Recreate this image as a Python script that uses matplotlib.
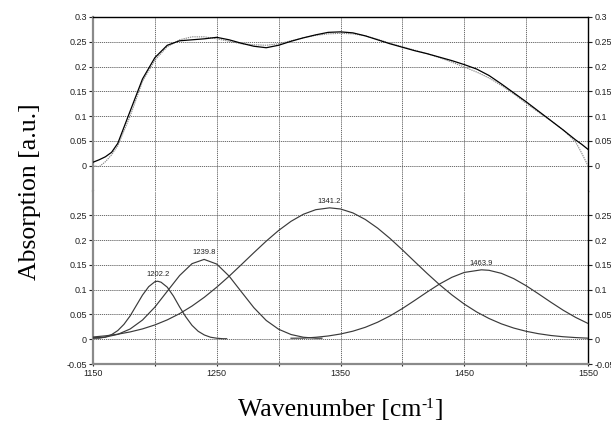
import matplotlib
matplotlib.use("Agg")
import matplotlib.pyplot as plt
from matplotlib.ticker import MultipleLocator, FixedLocator, NullFormatter

# ---------------- data ----------------
wn_top = [1150, 1155, 1160, 1165, 1170, 1180, 1190, 1200, 1210, 1220, 1230, 1240, 1250,
          1260, 1270, 1280, 1290, 1300, 1310, 1320, 1330, 1340, 1350, 1360, 1370,
          1380, 1390, 1400, 1410, 1420, 1430, 1440, 1450, 1460, 1470, 1480, 1490,
          1500, 1510, 1520, 1530, 1540, 1545, 1550]
measured = [0.007, 0.012, 0.018, 0.027, 0.045, 0.110, 0.175, 0.218, 0.243, 0.252, 0.254,
            0.256, 0.259, 0.254, 0.247, 0.241, 0.238, 0.243, 0.251, 0.258, 0.264, 0.269,
            0.270, 0.268, 0.262, 0.254, 0.246, 0.239, 0.232, 0.226, 0.219, 0.212, 0.204,
            0.195, 0.182, 0.165, 0.147, 0.129, 0.110, 0.091, 0.072, 0.052, 0.043, 0.033]
fitted = [0.000, -0.002, 0.008, 0.022, 0.040, 0.100, 0.170, 0.213, 0.240, 0.254, 0.260,
          0.260, 0.256, 0.251, 0.246, 0.244, 0.243, 0.246, 0.252, 0.258, 0.263, 0.266,
          0.267, 0.266, 0.262, 0.255, 0.247, 0.240, 0.233, 0.226, 0.218, 0.209, 0.199,
          0.189, 0.177, 0.162, 0.145, 0.126, 0.108, 0.091, 0.072, 0.048, 0.025, 0.000]

# component 1 (1202.2)
wn_c1 = [1150, 1155, 1160, 1165, 1170, 1175, 1180, 1185, 1190, 1195, 1200, 1202.2, 1205,
         1210, 1215, 1220, 1225, 1230, 1235, 1240, 1245, 1250, 1255, 1258]
c1 = [0.002, 0.002, 0.0044, 0.0092, 0.0174, 0.030, 0.047, 0.068, 0.089, 0.106, 0.116,
      0.117, 0.115, 0.105, 0.087, 0.065, 0.045, 0.028, 0.016, 0.0085, 0.004, 0.002,
      0.001, 0.001]
# component 2 (1239.8)
wn_c2 = [1150, 1160, 1170, 1180, 1190, 1200, 1210, 1220, 1230, 1239.8, 1250, 1260, 1270,
         1280, 1290, 1300, 1310, 1320, 1330, 1335]
c2 = [0.003, 0.0042, 0.0098, 0.0206, 0.0387, 0.0648, 0.0967, 0.1285, 0.1524, 0.161,
      0.1516, 0.1273, 0.0953, 0.0636, 0.0378, 0.0201, 0.0095, 0.004, 0.002, 0.002]
# component 3 (1341.2)
wn_c3 = [1150, 1160, 1170, 1180, 1190, 1200, 1210, 1220, 1230, 1240, 1250, 1260, 1270,
         1280, 1290, 1300, 1310, 1320, 1330, 1341.2, 1350, 1360, 1370, 1380, 1390, 1400,
         1410, 1420, 1430, 1440, 1450, 1460, 1470, 1480, 1490, 1500, 1510, 1520, 1530,
         1540, 1550]
c3 = [0.0045, 0.0068, 0.0101, 0.0147, 0.0208, 0.0288, 0.039, 0.0516, 0.0669, 0.0847,
      0.105, 0.1271, 0.1507, 0.1746, 0.1979, 0.2194, 0.2378, 0.2521, 0.2613, 0.265,
      0.2627, 0.2548, 0.2416, 0.2241, 0.2033, 0.1803, 0.1564, 0.1327, 0.1101, 0.0894,
      0.0709, 0.055, 0.0418, 0.031, 0.0225, 0.016, 0.0111, 0.0075, 0.005, 0.0033, 0.0021]
# component 4 (1463.9)
wn_c4 = [1310, 1320, 1330, 1340, 1350, 1360, 1370, 1380, 1390, 1400, 1410, 1420, 1430,
         1440, 1450, 1463.9, 1470, 1480, 1490, 1500, 1510, 1520, 1530, 1540, 1550]
c4 = [0.002, 0.0022, 0.0039, 0.0065, 0.0105, 0.0162, 0.024, 0.0343, 0.047, 0.0619,
      0.0783, 0.0952, 0.1113, 0.1249, 0.1347, 0.140, 0.139, 0.1329, 0.1222, 0.1079,
      0.0915, 0.0746, 0.0584, 0.044, 0.0318]

peak_pos = [1202.2, 1239.8, 1341.2, 1463.9]
peak_height = [0.117, 0.161, 0.265, 0.140]
peak_labels = ["1202.2", "1239.8", "1341.2", "1463.9"]

yticks_top = [0, 0.05, 0.1, 0.15, 0.2, 0.25, 0.3]
ytick_labels_top = ["0", "0.05", "0.1", "0.15", "0.2", "0.25", "0.3"]
yticks_bot = [-0.05, 0, 0.05, 0.1, 0.15, 0.2, 0.25]
ytick_labels_bot = ["-0.05", "0", "0.05", "0.1", "0.15", "0.2", "0.25"]
xticks_major = [1150, 1250, 1350, 1450, 1550]
xtick_labels = ["1150", "1250", "1350", "1450", "1550"]

# ---------------- figure ----------------
plt.rcParams['font.family'] = ['Liberation Sans', 'DejaVu Sans']

W, H = 611, 430
fig = plt.figure(figsize=(W / 100, H / 100), dpi=100)
x0, x1 = 93 / W, 588 / W
y_top = 1 - 17 / H
y_bot = 1 - 364 / H
ax_h = (y_top - y_bot) / 2
ax_top = fig.add_axes([x0, y_bot + ax_h, x1 - x0, ax_h])
ax_bot = fig.add_axes([x0, y_bot, x1 - x0, ax_h], sharex=ax_top)

grid_kw = dict(color='#555555', linewidth=0.6, linestyle=(0, (1.5, 1.0)))
tick_fs = 6.5

for ax in (ax_top, ax_bot):
    ax.set_xlim(1150, 1550)
    ax.set_ylim(-0.05, 0.3)
    ax.xaxis.set_major_locator(FixedLocator(xticks_major))
    ax.xaxis.set_minor_locator(MultipleLocator(50))
    for xv in range(1200, 1550, 50):
        ax.axvline(xv, zorder=0.5, **grid_kw)
    for yv in [0, 0.05, 0.1, 0.15, 0.2, 0.25]:
        ax.axhline(yv, zorder=0.5, **grid_kw)
    ax.spines['left'].set_color('#8a8a8a')
    ax.spines['left'].set_linewidth(1.6)
    ax.spines['right'].set_color('black')
    ax.spines['right'].set_linewidth(1.0)
    ax.tick_params(axis='y', which='both', left=True, right=True, labelleft=True,
                   labelright=True, length=3, width=0.8, direction='out',
                   labelsize=tick_fs, pad=1.5, colors='#222222')

# junction line between the panels
ax_top.axhline(-0.05, zorder=0.5, clip_on=False, **grid_kw)

# top panel
ax_top.spines['bottom'].set_visible(False)
ax_top.spines['top'].set_color('black')
ax_top.spines['top'].set_linewidth(1.0)
ax_top.tick_params(axis='x', which='both', bottom=False, labelbottom=False)
ax_top.set_yticks(yticks_top)
ax_top.set_yticklabels(ytick_labels_top)
ax_top.plot(wn_top, fitted, color='#888888', lw=0.8, ls=(0, (1.2, 0.8)), zorder=3)
ax_top.plot(wn_top, measured, color='black', lw=0.9, zorder=4)

# bottom panel
ax_bot.spines['top'].set_visible(False)
ax_bot.spines['bottom'].set_color('#8a8a8a')
ax_bot.spines['bottom'].set_linewidth(1.6)
ax_bot.set_yticks(yticks_bot)
ax_bot.set_yticklabels(ytick_labels_bot)
ax_bot.set_xticks(xticks_major)
ax_bot.set_xticklabels(xtick_labels)
ax_bot.xaxis.set_minor_locator(MultipleLocator(50))
ax_bot.xaxis.set_minor_formatter(NullFormatter())
ax_bot.tick_params(axis='x', which='both', length=3, width=0.8, direction='inout',
                   labelsize=tick_fs, pad=2, colors='#222222')

comp_color = '#3a3a3a'
for wx, cy in [(wn_c1, c1), (wn_c2, c2), (wn_c3, c3), (wn_c4, c4)]:
    ax_bot.plot(wx, cy, color=comp_color, lw=0.85, zorder=3)

for px, ph, lab in zip(peak_pos, peak_height, peak_labels):
    ax_bot.text(px, ph + 0.006, lab, ha='center', va='bottom', fontsize=5.5,
                color='#222222')

# axis titles
fig.text(30 / W, 1 - 192 / H, 'Absorption [a.u.]', rotation=90,
         ha='center', va='center', fontsize=18.5, family='Liberation Serif')

# x title: main text plus a small raised "-1"
xl_fs = 18.5
xl_y = 1 - 416 / H
main = fig.text(0, xl_y, 'Wavenumber [cm', ha='left', va='baseline',
                fontsize=xl_fs, family='Liberation Serif')
sup = fig.text(0, xl_y, '-1', ha='left', va='baseline', fontsize=xl_fs * 0.6,
               family='Liberation Serif')
close = fig.text(0, xl_y, ']', ha='left', va='baseline', fontsize=xl_fs,
                 family='Liberation Serif')
fig.canvas.draw()
r = fig.canvas.get_renderer()
w_main = main.get_window_extent(r).width
w_sup = sup.get_window_extent(r).width
w_close = close.get_window_extent(r).width
total = w_main + w_sup + w_close
cx = (93 + 588) / 2
start = cx - total / 2
main.set_x(start / W)
sup.set_x((start + w_main) / W)
sup.set_y(xl_y + 8 / H)
close.set_x((start + w_main + w_sup) / W)

fig.savefig('out.png', dpi=100)
